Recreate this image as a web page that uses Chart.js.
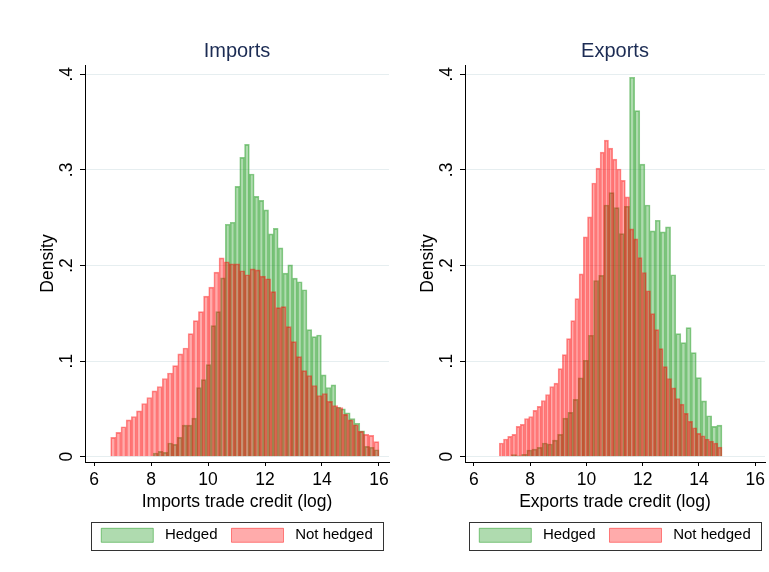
<!DOCTYPE html>
<html>
<head>
<meta charset="utf-8">
<script src="https://cdn.jsdelivr.net/npm/chart.js@4"></script>
<style>
  html, body { margin: 0; padding: 0; background: #fff; }
  #wrap { position: relative; width: 769px; height: 572px; overflow: hidden; }
  canvas { position: absolute; top: 0; }
  #imports { left: 0; }
  #exports { left: 395px; }
</style>
</head>
<body>
<div id="wrap">
  <canvas id="imports" width="395" height="572"></canvas>
  <canvas id="exports" width="374" height="572"></canvas>
</div>
<script>
// histogram bins: start of first bin and bin width (log trade credit)
var impHedgedStart = 8.081, impHedgedWidth = 0.16849;
var impNotStart = 6.585, impNotWidth = 0.18106;
var expHedgedStart = 7.333, expHedgedWidth = 0.18263;
var expNotStart = 6.902, expNotWidth = 0.14942;

// densities
var impHedged = [0.0039, 0.0056, 0.0046, 0.0143, 0.0129, 0.0202, 0.0331, 0.0331, 0.0404, 0.0724,
    0.0807, 0.0964, 0.1371, 0.1517, 0.1871, 0.2431, 0.2452, 0.2828, 0.3130, 0.3266,
    0.2957, 0.2723, 0.2681, 0.2581, 0.2331, 0.2389, 0.2185, 0.1920, 0.2007, 0.1868,
    0.1830, 0.1746, 0.1329, 0.1256, 0.1273, 0.0856, 0.0724, 0.0751, 0.052, 0.050,
    0.046, 0.040, 0.035, 0.0271, 0.0108, 0.0099, 0.0073];
var impNot = [0.0202, 0.0255, 0.0313, 0.0386, 0.0421, 0.0480, 0.0557, 0.0619, 0.0689, 0.0734,
    0.0818, 0.0876, 0.0953, 0.1075, 0.1137, 0.1287, 0.1423, 0.1517, 0.1680, 0.1774,
    0.1930, 0.2080, 0.2039, 0.2018, 0.2018, 0.1945, 0.1903, 0.1965, 0.1955, 0.1889,
    0.1861, 0.1726, 0.1559, 0.1569, 0.1360, 0.1204, 0.1047, 0.0901, 0.0849, 0.0745,
    0.0640, 0.0661, 0.0578, 0.0536, 0.0515, 0.0442, 0.0386, 0.0334, 0.0265, 0.0234,
    0.0223, 0.0157];
var expHedged = [0.0021, 0.0010, 0.0025, 0.0070, 0.0080, 0.0098, 0.0143, 0.0133, 0.0174, 0.0234,
    0.0404, 0.0463, 0.0599, 0.0824, 0.1009, 0.1270, 0.1843, 0.1896, 0.2633, 0.2762,
    0.2605, 0.2334, 0.262, 0.3969, 0.3620, 0.3061, 0.2633, 0.2362, 0.2473, 0.2352,
    0.2404, 0.1903, 0.1287, 0.1193, 0.1350, 0.1089, 0.0828, 0.0584, 0.0428, 0.0317,
    0.0331];
var expNot = [0.0143, 0.0185, 0.0213, 0.0234, 0.0317, 0.0338, 0.0400, 0.0421, 0.0484, 0.0526,
    0.0588, 0.0651, 0.0734, 0.0769, 0.0922, 0.1068, 0.1235, 0.1423, 0.1653, 0.1913,
    0.2299, 0.2508, 0.2863, 0.3019, 0.3186, 0.3311, 0.3228, 0.3113, 0.3009, 0.2890,
    0.2717, 0.2383, 0.2279, 0.2083, 0.1927, 0.1736, 0.1496, 0.1329, 0.1131, 0.0943,
    0.0818, 0.0720, 0.0609, 0.0550, 0.0453, 0.0369, 0.0303, 0.0244, 0.0219, 0.0185,
    0.0164, 0.0143, 0.0101];

var xTicks = [6, 8, 10, 12, 14, 16];
var yTicks = [0, 0.1, 0.2, 0.3, 0.4];
var yTickLabels = ['0', '.1', '.2', '.3', '.4'];
var seriesNames = ['Hedged', 'Not hedged'];

Chart.defaults.font.family = "'Liberation Sans', Arial, Helvetica, sans-serif";
Chart.defaults.color = '#000';

function bins(start, width, dens) {
    return dens.map(function (d, i) {
        return {x: start + (i + 0.5) * width, y: d};
    });
}

// box round the legend, like stata draws it
var legendFrame = {
    id: 'legendFrame',
    afterDraw: function (chart) {
        var hb = chart.legend.legendHitBoxes;
        if (!hb || !hb.length) return;
        var l = Infinity, r = -Infinity, t = Infinity, b = -Infinity;
        hb.forEach(function (h) {
            l = Math.min(l, h.left); r = Math.max(r, h.left + h.width);
            t = Math.min(t, h.top); b = Math.max(b, h.top + h.height);
        });
        var ctx = chart.ctx;
        l = Math.round(l - 10) + 0.5;
        r = Math.round(r + 10) + 0.5;
        t = Math.round(t - 6) + 0.5;
        b = Math.round(b + 7) + 0.5;
        ctx.save();
        ctx.strokeStyle = '#333';
        ctx.lineWidth = 1;
        ctx.strokeRect(l, t, r - l, b - t);
        ctx.restore();
    }
};

function legendLabels(chart) {
    var items = Chart.defaults.plugins.legend.labels.generateLabels(chart);
    items.forEach(function (it) { it.text = ' ' + it.text; });
    return items.sort(function (a, b) { return a.datasetIndex - b.datasetIndex; });
}

function makeChart(id, title, xTitle, hedged, notHedged, padLeft, padRight) {
    var ctx = document.getElementById(id).getContext('2d');
    return new Chart(ctx, {
        type: 'bar',
        data: {
            datasets: [{
                label: seriesNames[0],
                data: hedged,
                xAxisID: 'xh',
                order: 1,
                grouped: false,
                barPercentage: 1,
                categoryPercentage: 1,
                backgroundColor: 'rgba(44,160,44,0.38)',
                borderColor: 'rgba(44,160,44,0.55)',
                borderWidth: 1
            }, {
                label: seriesNames[1],
                data: notHedged,
                xAxisID: 'x',
                order: 0,
                grouped: false,
                barPercentage: 1,
                categoryPercentage: 1,
                backgroundColor: 'rgba(255,0,0,0.33)',
                borderColor: 'rgba(255,0,0,0.45)',
                borderWidth: 1
            }]
        },
        plugins: [legendFrame],
        options: {
            responsive: false,
            animation: false,
            devicePixelRatio: 1,
            layout: {padding: {left: padLeft, right: padRight, top: 0, bottom: 19.2}},
            scales: {
                x: {
                    type: 'linear',
                    offset: false,
                    min: 5.684, max: 16.351,
                    afterFit: function (s) { s.height = 51.8; },
                    afterBuildTicks: function (s) {
                        s.ticks = xTicks.map(function (v) { return {value: v}; });
                    },
                    grid: {offset: false, drawOnChartArea: false, drawTicks: true, tickLength: 4, tickColor: '#000'},
                    border: {display: true, color: '#000', width: 1},
                    ticks: {font: {size: 17.5}, padding: 4, maxRotation: 0, autoSkip: false, color: '#000'},
                    title: {display: true, text: xTitle, font: {size: 17.5}, color: '#000',
                        padding: {top: 0, bottom: 1.3}}
                },
                xh: {
                    type: 'linear',
                    display: false,
                    offset: false,
                    grid: {offset: false},
                    min: 5.684, max: 16.351
                },
                y: {
                    type: 'linear',
                    min: -0.00553, max: 0.4097,
                    afterFit: function (s) { s.width = 55; },
                    afterBuildTicks: function (s) {
                        s.ticks = yTicks.map(function (v) { return {value: v}; });
                    },
                    grid: {color: '#e6eef0', lineWidth: 1, drawTicks: true, tickLength: 5, tickColor: '#000'},
                    border: {display: true, color: '#000', width: 1},
                    ticks: {
                        font: {size: 17.5}, padding: 5.2, minRotation: 90, maxRotation: 90,
                        crossAlign: 'center', color: '#000',
                        callback: function (v) {
                            var i = yTicks.indexOf(v);
                            return i >= 0 ? yTickLabels[i] : '';
                        }
                    },
                    title: {display: true, text: 'Density', font: {size: 17.5}, color: '#000',
                        padding: {top: 7.5, bottom: 0}}
                }
            },
            plugins: {
                title: {
                    display: true,
                    text: title,
                    fullSize: false,
                    color: '#1c2c54',
                    font: {size: 20, weight: 'normal'},
                    padding: {top: 39.5, bottom: 1.5}
                },
                legend: {
                    position: 'bottom',
                    fullSize: false,
                    labels: {
                        boxWidth: 52, boxHeight: 14, padding: 14, font: {size: 15}, color: '#000',
                        generateLabels: legendLabels
                    }
                },
                tooltip: {enabled: false}
            }
        }
    });
}

makeChart('imports', 'Imports', 'Imports trade credit (log)',
    bins(impHedgedStart, impHedgedWidth, impHedged),
    bins(impNotStart, impNotWidth, impNot), 30, 6);
makeChart('exports', 'Exports', 'Exports trade credit (log)',
    bins(expHedgedStart, expHedgedWidth, expHedged),
    bins(expNotStart, expNotWidth, expNot), 15, 0);
</script>
</body>
</html>
